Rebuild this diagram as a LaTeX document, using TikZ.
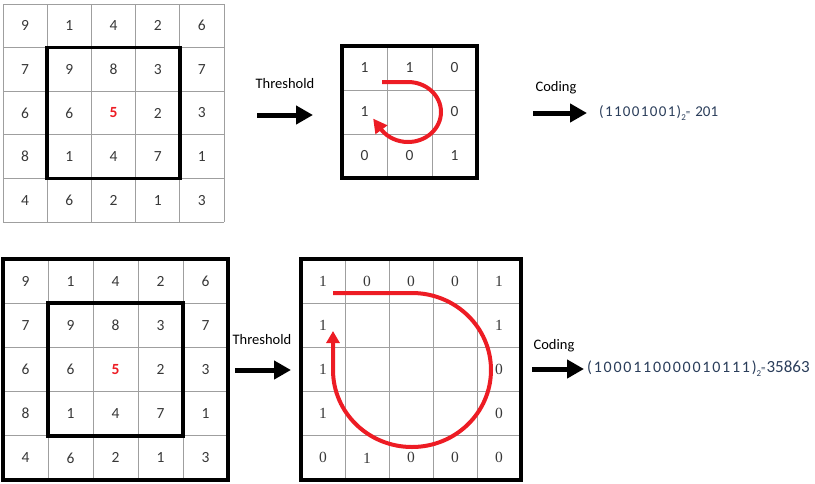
\documentclass[tikz,border=0pt]{standalone}
\usepackage{fontspec}
\usepackage{xcolor}
\usetikzlibrary{arrows.meta, positioning}
\setmainfont{Carlito}
\newfontfamily\serifdigits{Liberation Serif}
\newfontfamily\codefont[LetterSpace=9]{Carlito}
\newfontfamily\longcodefont[LetterSpace=11]{Carlito}
\definecolor{fivered}{HTML}{ED1C24}
\definecolor{codeblue}{HTML}{2A3D5A}
\newcommand{\ctrfive}{\textcolor{fivered}{\bfseries 5}}
\tikzset{gridline/.style={draw=gray!75, line width=1pt}}
\tikzset{frame/.style={draw=black, line width=3.5pt}}
\tikzset{cell/.style={font=\fontsize{15.5}{15.5}\selectfont, text=black!78, inner sep=0pt}}
\tikzset{tcell/.style={cell, font=\serifdigits\fontsize{15.5}{15.5}\selectfont}}
\tikzset{label/.style={font=\fontsize{14.5}{15}\selectfont, text=black, inner sep=0pt}}
\tikzset{bigarrow/.style={line width=5pt, -{Triangle[width=18pt, length=17pt]}}}
\tikzset{ring/.style={draw=fivered, line width=4pt, -{Triangle[width=13pt, length=12pt]}}}

\begin{document}
\begin{tikzpicture}[x=1pt, y=-1pt]
                        \useasboundingbox (0,0) rectangle (815,483);

                        % top left grid
                        \begin{scope}[shift={(3,4)}, x=44.2pt, y=-43.6pt]
                            \foreach \i in {0,...,5} {
                                \draw[gridline] (\i,0) -- (\i,5);
                                \draw[gridline] (0,\i) -- (5,\i);
                            }
                            \draw[frame] (1,1) rectangle (4,4);
                            \foreach \row [count=\r] in {{9,1,4,2,6},{7,9,8,3,7},{6,6,\ctrfive,2,3},{8,1,4,7,1},{4,6,2,1,3}}
                                \foreach \v [count=\c] in \row
                                    \node[cell] (a\r\c) at (\c-0.5, \r-0.5) {\v};
                        \end{scope}

                        % top threshold grid
                        \begin{scope}[shift={(342,46)}, x=45pt, y=-44pt]
                            \foreach \i in {1,2} {
                                \draw[gridline] (\i,0) -- (\i,3);
                                \draw[gridline] (0,\i) -- (3,\i);
                            }
                            \draw[frame, line width=4pt] (0,0) rectangle (3,3);
                            \foreach \v/\c/\r in {1/1/1, 1/2/1, 0/3/1, 0/3/2, 1/3/3, 0/2/3, 0/1/3, 1/1/2}
                                \node[cell] (b\r\c) at (\c-0.5, \r-0.5) {\v};
                        \end{scope}

                        % bottom left grid
                        \begin{scope}[shift={(3,259)}, x=45pt, y=-44.2pt]
                            \foreach \i in {1,...,4} {
                                \draw[gridline] (\i,0) -- (\i,5);
                                \draw[gridline] (0,\i) -- (5,\i);
                            }
                            \draw[frame, line width=4pt] (0,0) rectangle (5,5);
                            \draw[frame] (1,1) rectangle (4,4);
                            \foreach \row [count=\r] in {{9,1,4,2,6},{7,9,8,3,7},{6,6,\ctrfive,2,3},{8,1,4,7,1},{4,6,2,1,3}}
                                \foreach \v [count=\c] in \row
                                    \node[cell] (c\r\c) at (\c-0.5, \r-0.5) {\v};
                        \end{scope}

                        % bottom threshold grid
                        \begin{scope}[shift={(301,259)}, x=44pt, y=-44.2pt]
                            \foreach \i in {1,...,4} {
                                \draw[gridline] (\i,0) -- (\i,5);
                                \draw[gridline] (0,\i) -- (5,\i);
                            }
                            \draw[frame, line width=4pt] (0,0) rectangle (5,5);
                            \foreach \v/\c/\r in {1/1/1, 0/2/1, 0/3/1, 0/4/1, 1/5/1, 1/5/2, 0/5/3, 0/5/4,
                                                  0/5/5, 0/4/5, 0/3/5, 1/2/5, 0/1/5, 1/1/4, 1/1/3, 1/1/2}
                                \node[tcell] (d\r\c) at (\c-0.5, \r-0.5) {\v};
                        \end{scope}

                        % labels
                        \node[label] (thr1) at (285,84) {Threshold};
                        \node[label] (cod1) at (556,88) {Coding};
                        \node[label] (thr2) at (262,340) {Threshold};
                        \node[label] (cod2) at (554,346) {Coding};

                        \node[label, anchor=west, text=codeblue, font=\fontsize{15}{15}\selectfont] (res1) at (599,113)
                            {{\codefont(11001001)}\raisebox{-4pt}{\small 2}\raisebox{1pt}{\small =}\hspace{5pt}201};
                        \node[label, anchor=west, text=codeblue, font=\fontsize{16}{16}\selectfont] (res2) at (587,369)
                            {{\longcodefont(1000110000010111)}\raisebox{-4pt}{\small 2}\raisebox{1pt}{\small =}\hspace{1pt}{\fontsize{17}{17}\selectfont 35863}};

                        % arrows
                        \coordinate (t1a) at (257,115);
                        \coordinate (t1b) at (313,115);
                        \coordinate (k1a) at (533,113);
                        \coordinate (k1b) at (587,113);
                        \coordinate (t2a) at (235,370);
                        \coordinate (t2b) at (291,370);
                        \coordinate (k2a) at (532,369);
                        \coordinate (k2b) at (584,369);
                        \draw[bigarrow] (t1a) -- (t1b);
                        \draw[bigarrow] (k1a) -- (k1b);
                        \draw[bigarrow] (t2a) -- (t2b);
                        \draw[bigarrow] (k2a) -- (k2b);

                        % red rings
                        \coordinate (r1) at (382,82);
                        \coordinate (r2) at (333,293);
                        \draw[ring, -{Triangle[width=14pt, length=14pt]}] (r1) -- (408,82)
                            arc[start angle=90, end angle=-143, x radius=33pt, y radius=30pt] -- ++(-8.5,-11.5);
                        \draw[ring] (r2) -- (412,293) arc[start angle=90, end angle=-180, x radius=79pt, y radius=77pt] -- (333,331);
                    \end{tikzpicture}
\end{document}
